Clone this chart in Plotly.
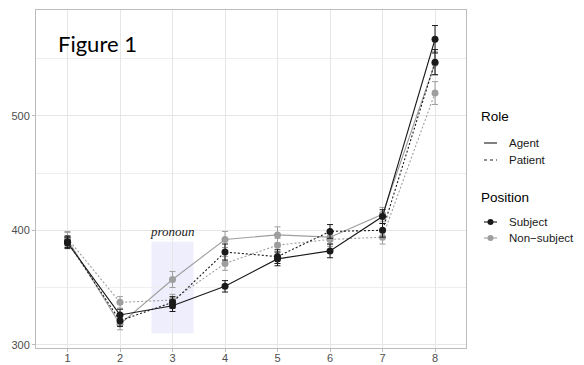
import plotly.graph_objects as go

positions = [1, 2, 3, 4, 5, 6, 7, 8]
tick_labels = ["1", "2", "3", "4", "5", "6", "7", "8"]

agent_subject = [389, 326, 334, 351, 375, 382, 412, 567]
agent_subject_err = [5, 5, 5, 5, 6, 6, 6, 12]
agent_nonsubject = [392, 318, 357, 392, 396, 394, 414, 546]
agent_nonsubject_err = [6, 5, 7, 7, 7, 6, 6, 10]
patient_subject = [390, 321, 337, 381, 377, 399, 400, 547]
patient_subject_err = [5, 5, 5, 7, 6, 6, 6, 11]
patient_nonsubject = [393, 337, 339, 371, 387, 392, 394, 520]
patient_nonsubject_err = [6, 5, 5, 6, 6, 6, 6, 10]

BLACK = "#1a1a1a"
GRAY = "#9e9e9e"
DOT = "2px,2px"

series = [
    (patient_nonsubject, patient_nonsubject_err, GRAY, DOT),
    (agent_nonsubject, agent_nonsubject_err, GRAY, "solid"),
    (patient_subject, patient_subject_err, BLACK, DOT),
    (agent_subject, agent_subject_err, BLACK, "solid"),
]

fig = go.Figure()
for vals, errs, col, dash in series:
    fig.add_trace(go.Scatter(
        x=positions, y=vals, mode="lines+markers",
        line=dict(color=col, width=1.1, dash=dash),
        marker=dict(color=col, size=7),
        error_y=dict(type="data", array=errs, color=col, thickness=1, width=3),
        showlegend=False,
    ))

# pronoun highlight
fig.add_shape(type="rect", xref="x", yref="y", x0=2.6, x1=3.4, y0=310, y1=390,
              fillcolor="rgba(200,200,250,0.3)", line=dict(width=0), layer="below")
fig.add_annotation(x=3, y=399, xref="x", yref="y", text="<i>pronoun</i>", showarrow=False,
                   font=dict(family="Liberation Serif", size=13, color=BLACK))

# page has an 8px body margin; figure is sized so the page view is 584x365
OFF = 8
W, H = 584 - OFF, 365 - OFF
L, R, T, B = 36 - OFF, 466 - OFF, 10 - OFF, 348 - OFF
def px(x):
    return (x - OFF - L) / (R - L)
def py(y):
    return (B - (y - OFF)) / (B - T)

# Figure 1 label
fig.add_annotation(x=px(56), y=py(43), xref="paper", yref="paper", text="Figure 1",
                   showarrow=False, xanchor="left", yanchor="middle",
                   font=dict(family="Lato", size=22, color="black"))

# manual legend
leg_font = dict(family="Liberation Sans", size=11.5, color=BLACK)
tit_font = dict(family="Liberation Sans", size=13.5, color="black")
fig.add_annotation(x=px(479), y=py(117), xref="paper", yref="paper", text="Role",
                   showarrow=False, xanchor="left", yanchor="middle", font=tit_font)
fig.add_annotation(x=px(479), y=py(198), xref="paper", yref="paper", text="Position",
                   showarrow=False, xanchor="left", yanchor="middle", font=tit_font)
items = [
    ("Agent", 143, BLACK, "solid", False),
    ("Patient", 160, BLACK, "dot", False),
    ("Subject", 222, BLACK, "solid", True),
    ("Non\u2212subject", 238, GRAY, "solid", True),
]
for label, yy, col, dash, dot in items:
    fig.add_shape(type="line", xref="paper", yref="paper", x0=px(484), x1=px(497),
                  y0=py(yy), y1=py(yy), line=dict(color=col, width=1.1, dash=dash))
    if dot:
        r = 3
        fig.add_shape(type="circle", xref="paper", yref="paper",
                      x0=px(490.5 - r), x1=px(490.5 + r), y0=py(yy + r), y1=py(yy - r),
                      fillcolor=col, line=dict(width=0))
    fig.add_annotation(x=px(507), y=py(yy), xref="paper", yref="paper", text=label,
                       showarrow=False, xanchor="left", yanchor="middle", font=leg_font)

axis_common = dict(showline=True, mirror=True, linecolor="#bcbcbc", linewidth=1,
                   gridcolor="#e6e6e6", gridwidth=1, zeroline=False, automargin=False,
                   ticks="outside", ticklen=3, tickcolor="#bcbcbc",
                   tickfont=dict(family="Liberation Sans", size=11, color="#4d4d4d"))

fig.update_xaxes(range=[0.4, 8.59], tickvals=positions, ticktext=tick_labels,
                 ticklabelstandoff=-3, **axis_common)
fig.update_yaxes(range=[297.1, 592.6], tickvals=[300, 400, 500],
                 minor=dict(tickvals=[350, 450, 550], showgrid=True, gridcolor="#eeeeee", ticks=""),
                 **axis_common)

fig.update_layout(width=W, height=H, margin=dict(l=L, r=W - R, t=T, b=H - B),
                  plot_bgcolor="white", paper_bgcolor="white", showlegend=False)

fig.write_html("out.html")
